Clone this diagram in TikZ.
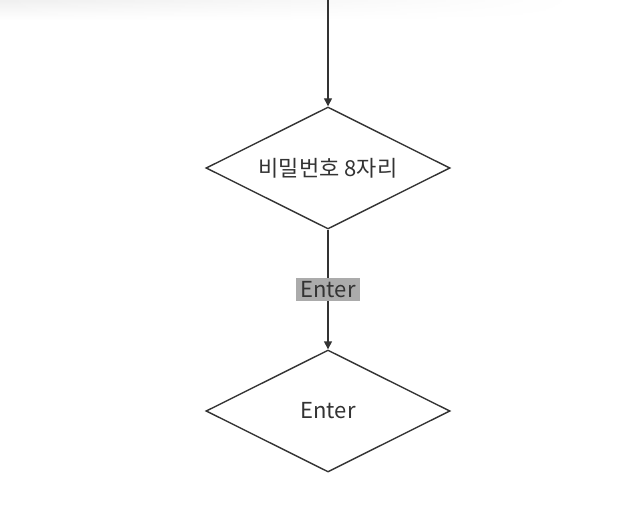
\documentclass[tikz,border=0pt]{standalone}
\usepackage{fontspec}
\setmainfont{Noto Sans CJK KR}
\usetikzlibrary{shapes.geometric,arrows.meta,fadings}
\definecolor{ink}{HTML}{333333}
\definecolor{lbl}{HTML}{ABABAB}
\tikzset{
  decision/.style={draw=ink, line width=1.4pt, diamond, aspect=2, minimum width=244pt, minimum height=122pt, inner sep=0pt, text=ink, font=\fontsize{22pt}{26pt}\selectfont},
  flow/.style={draw=ink, line width=1.4pt, -{Triangle[length=8pt,width=8pt]}},
  edgelabel/.style={fill=lbl, text=ink, font=\fontsize{22pt}{26pt}\selectfont, inner xsep=4.5pt, inner ysep=3pt}
}
\begin{document}
\begin{tikzpicture}[x=1pt,y=-1pt]
\useasboundingbox (0,0) rectangle (644,513);
\shade[top color=black!6, bottom color=white, path fading=east] (0,0) rectangle (580,20);
\coordinate (start) at (328,0);
\node[decision] (d1) at (328,168) {비밀번호 8자리};
\node[decision] (d2) at (328,411) {Enter};
\draw[flow] (start) -- (d1.north);
\draw[flow] (d1.south) -- node[edgelabel] (l1) {Enter} (d2.north);
\end{tikzpicture}
\end{document}
